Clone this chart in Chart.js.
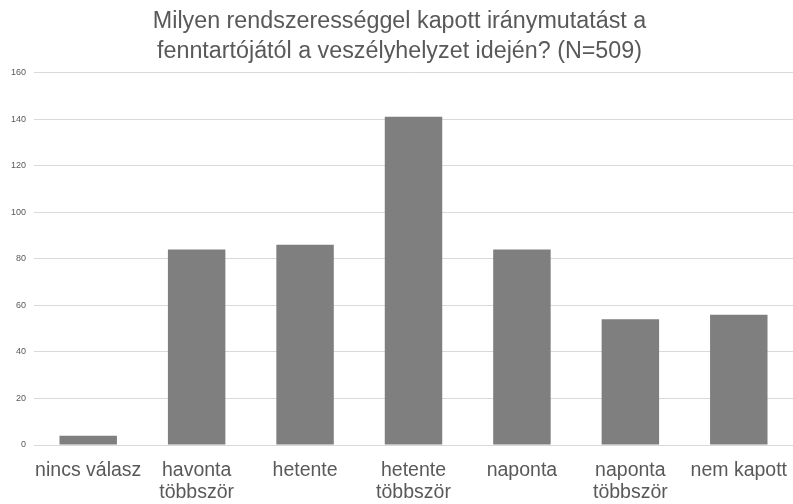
<!DOCTYPE html>
<html>
<head>
<meta charset="utf-8">
<script src="https://cdn.jsdelivr.net/npm/chart.js@4.4.0/dist/chart.umd.min.js"></script>
<style>
  html, body { margin: 0; padding: 0; background: #fff; }
</style>
</head>
<body>
<canvas id="myChart" width="793" height="504"></canvas>
<script>
// data
const categories = [
  ["nincs válasz"],
  ["havonta", "többször"],
  ["hetente"],
  ["hetente", "többször"],
  ["naponta"],
  ["naponta", "többször"],
  ["nem kapott"]
];
const answers = [4, 84, 86, 141, 84, 54, 56];
const yMin = 0;
const yMax = 160;
const yStep = 20;
const titleLines = [
  "Milyen rendszerességgel kapott iránymutatást a",
  "fenntartójától a veszélyhelyzet idején? (N=509)"
];

const textColor = "#595959";
const fontName = "'Liberation Sans', Arial, sans-serif";

const chart = new Chart(document.getElementById("myChart"), {
  type: "bar",
  data: {
    labels: categories,
    datasets: [
      {
        data: answers,
        backgroundColor: "#7f7f7f",
        borderWidth: 0,
        categoryPercentage: 1,
        barPercentage: 0.53,
      },
    ],
  },
  options: {
    responsive: false,
    animation: false,
    // plot area runs a bit past the right edge in the original
    layout: { padding: { left: 0, right: -6, top: 0, bottom: 0 } },
    plugins: {
      legend: { display: false },
      tooltip: { enabled: false },
      title: {
        display: true,
        text: titleLines,
        color: textColor,
        font: { family: fontName, size: 23.3, weight: "normal", lineHeight: 1.28 },
        padding: { top: 7, bottom: 6 },
      },
    },
    scales: {
      x: {
        grid: { display: false, drawTicks: false },
        border: { color: "#d9d9d9", width: 1 },
        ticks: {
          color: textColor,
          font: { family: fontName, size: 19.5, lineHeight: 1.15 },
          padding: 14,
          maxRotation: 0,
          autoSkip: false,
        },
        afterFit: function (scale) {
          scale.height = 59;
          // labels may overhang the edges, like in the original
          scale.paddingLeft = 0;
          scale.paddingRight = 0;
        },
      },
      y: {
        min: yMin,
        max: yMax,
        grid: { color: "#d9d9d9", drawTicks: false },
        border: { display: false },
        ticks: {
          stepSize: yStep,
          color: textColor,
          font: { family: fontName, size: 9 },
          padding: 8,
        },
        afterFit: function (scale) {
          scale.width = 34;
        },
      },
    },
  },
});
</script>
</body>
</html>
